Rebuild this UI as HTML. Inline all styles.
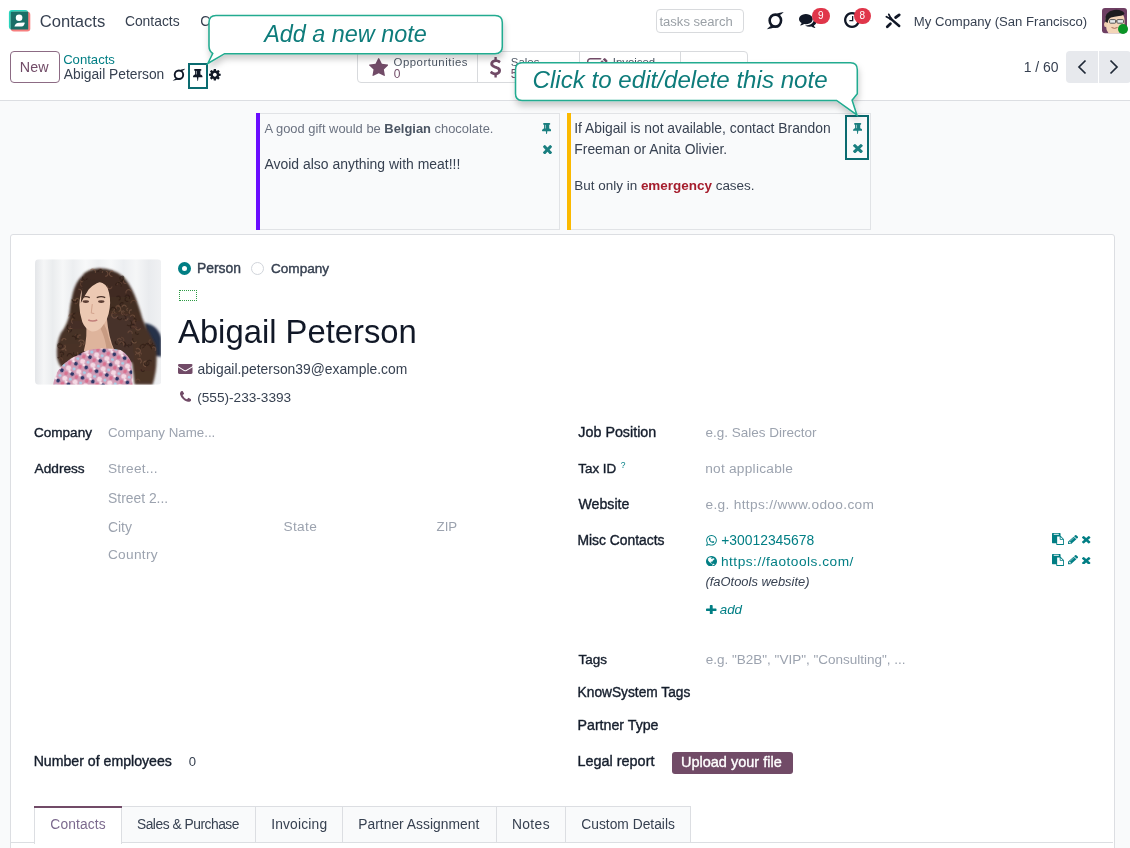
<!DOCTYPE html>
<html><head><meta charset="utf-8"><title>Abigail Peterson - Contacts</title>
<style>
html,body{margin:0;padding:0;}
body{width:1130px;height:848px;overflow:hidden;position:relative;background:#f9fafb;font-family:"Liberation Sans", Arial, sans-serif;}
.a{position:absolute;}
.t{position:absolute;white-space:nowrap;line-height:1;}
.badge{width:17.5px;height:16px;border-radius:8px;background:#e0364a;color:#fff;font-size:10px;line-height:16px;text-align:center;}
</style></head><body>
<div class="a" style="left:0;top:0;width:1130px;height:100px;background:#fff"></div>
<svg class="a" style="left:5px;top:6px" width="30" height="30" viewBox="0 0 30 30">
<rect x="3.9" y="4.1" width="19.3" height="19.4" rx="3" fill="#2ad4bc"/>
<rect x="5.8" y="5.8" width="19.5" height="19.7" rx="3" fill="#f87f7f"/>
<rect x="5.8" y="5.8" width="17.4" height="17.7" fill="#1b6e66"/>
<circle cx="14.1" cy="11.7" r="3.3" fill="#fff"/>
<path d="M9.4 20.6 Q10.3 16.7 14 16.7 L19.2 16.6 Q20.1 16.7 19.6 17.7 L18.5 19.8 Q18 20.6 16.5 20.6 Z" fill="#fff"/>
</svg>
<div class="t" style="left:39.77px;top:14px;font-size:16.58px;color:#374151;">Contacts</div>
<div class="t" style="left:124.91px;top:15px;font-size:13.86px;color:#374151;">Contacts</div>
<div class="t" style="left:200.31px;top:15px;font-size:13.86px;color:#374151;">Configuration</div>
<div class="a" style="left:656px;top:9px;width:86px;height:22px;border:1px solid #d8dadd;border-radius:4px;background:#fff"></div>
<div class="t" style="left:659.47px;top:15px;font-size:13.05px;color:#9aa0a6;">tasks search</div>
<svg class="a" style="left:766.3px;top:10.6px" width="18.6" height="19.5" viewBox="0 0 15.3 15" preserveAspectRatio="none">
<circle cx="7.7" cy="7.4" r="4.7" fill="none" stroke="#111827" stroke-width="2.1"/>
<path d="M0.7 14 Q2.8 11.8 5 11.2 L8.6 11.9 Q5 13.5 0.7 14 Z" fill="#111827"/>
<path d="M14.6 0.8 Q12.6 3 10.4 3.6 L6.8 2.9 Q10.4 1.3 14.6 0.8 Z" fill="#111827"/>
</svg>
<svg class="a" style="left:798.5px;top:14px;" width="17.5" height="14" viewBox="0 -1280.0 1792 1408.111111111111" preserveAspectRatio="none"><path transform="scale(1,-1)" fill="#111827" d="M704 256Q618 256 528 272Q404 184 250 144Q214 135 164 128H161Q150 128 140.5 136.0Q131 144 129 157Q128 160 128.0 163.5Q128 167 128.5 170.0Q129 173 130.5 176.0Q132 179 133.0 181.0Q134 183 136.5 186.5Q139 190 140.5 191.5Q142 193 145.0 196.5Q148 200 149 201Q154 207 172.0 226.0Q190 245 198.0 255.5Q206 266 220.5 284.5Q235 303 245.5 323.0Q256 343 266 367Q142 439 71.0 544.0Q0 649 0 768Q0 907 94.0 1025.0Q188 1143 350.5 1211.5Q513 1280 704.0 1280.0Q895 1280 1057.5 1211.5Q1220 1143 1314.0 1025.0Q1408 907 1408.0 768.0Q1408 629 1314.0 511.0Q1220 393 1057.5 324.5Q895 256 704 256ZM1792 512Q1792 392 1721.0 287.5Q1650 183 1526 111Q1536 87 1546.5 67.0Q1557 47 1571.5 28.5Q1586 10 1594.0 -0.5Q1602 -11 1620.0 -30.0Q1638 -49 1643 -55Q1644 -56 1647.0 -59.5Q1650 -63 1651.5 -64.5Q1653 -66 1655.5 -69.5Q1658 -73 1659.0 -75.0Q1660 -77 1661.5 -80.0Q1663 -83 1663.5 -86.0Q1664 -89 1664.0 -92.5Q1664 -96 1663 -99Q1660 -113 1650.0 -121.0Q1640 -129 1628 -128Q1578 -121 1542 -112Q1388 -72 1264 16Q1174 0 1088 0Q817 0 616 132Q674 128 704 128Q865 128 1013.0 173.0Q1161 218 1277 302Q1402 394 1469.0 514.0Q1536 634 1536 768Q1536 845 1513 920Q1642 849 1717.0 742.0Q1792 635 1792 512Z"/></svg>
<div class="a badge" style="left:812px;top:7.5px">9</div>
<svg class="a" style="left:844px;top:12.3px;" width="16" height="16.0" viewBox="0.0 -1408.0 1536.0 1536.0" preserveAspectRatio="none"><path transform="scale(1,-1)" fill="#111827" d="M896 992V544Q896 530 887.0 521.0Q878 512 864 512H544Q530 512 521.0 521.0Q512 530 512 544V608Q512 622 521.0 631.0Q530 640 544 640H768V992Q768 1006 777.0 1015.0Q786 1024 800 1024H864Q878 1024 887.0 1015.0Q896 1006 896 992ZM1239.0 367.0Q1312 492 1312.0 640.0Q1312 788 1239.0 913.0Q1166 1038 1041.0 1111.0Q916 1184 768.0 1184.0Q620 1184 495.0 1111.0Q370 1038 297.0 913.0Q224 788 224.0 640.0Q224 492 297.0 367.0Q370 242 495.0 169.0Q620 96 768.0 96.0Q916 96 1041.0 169.0Q1166 242 1239.0 367.0ZM1433.0 1025.5Q1536 849 1536.0 640.0Q1536 431 1433.0 254.5Q1330 78 1153.5 -25.0Q977 -128 768.0 -128.0Q559 -128 382.5 -25.0Q206 78 103.0 254.5Q0 431 0.0 640.0Q0 849 103.0 1025.5Q206 1202 382.5 1305.0Q559 1408 768.0 1408.0Q977 1408 1153.5 1305.0Q1330 1202 1433.0 1025.5Z"/></svg>
<div class="a badge" style="left:853.5px;top:7.5px">8</div>
<svg class="a" style="left:880px;top:8px" width="26" height="24" viewBox="0 0 26 24">
<g stroke="#111827" stroke-linecap="round" fill="none">
<path d="M15.6 9.5 L19.2 6.9" stroke-width="2.8"/>
<path d="M7.3 18.7 L10.4 15.8" stroke-width="2.8"/>
<path d="M11.2 11.1 L19.2 18" stroke-width="2.5"/>
<path d="M8.8 6.4 L10.5 9.7 M6.4 8.7 L9.7 10.5" stroke-width="1.8"/>
</g><circle cx="10.6" cy="10.6" r="1.6" fill="#111827"/>
</svg>
<div class="t" style="left:913.85px;top:15px;font-size:13.12px;color:#374151;">My Company (San Francisco)</div>
<svg class="a" style="left:1102px;top:8px" width="28" height="28" viewBox="0 0 28 28">
<rect x="0" y="0" width="25" height="25.3" rx="3" fill="#6e3f63"/>
<path d="M3.5 13 Q3 8 6 6.5 L19 5.5 Q22.5 7 22.5 12 L22.5 20 Q20.5 25.3 14 25.3 L6.5 25.3 Q4 22 4 18 Z" fill="#f3d5b8"/>
<ellipse cx="3.6" cy="16.5" rx="1.6" ry="2.6" fill="#efcdb0"/>
<path d="M3.2 13.5 Q2.5 3.5 12 2 Q20 1.2 22.5 5.5 Q21.5 7.5 17 8 Q12 8.5 9 9.5 Q6.2 10.5 5.6 15 Z" fill="#1d1d1f"/>
<rect x="7.6" y="11.6" width="6" height="3.6" rx="0.8" fill="#e4e8ea" stroke="#4a4a4a" stroke-width="0.9"/>
<rect x="15" y="11.6" width="6.5" height="3.6" rx="0.8" fill="#e4e8ea" stroke="#4a4a4a" stroke-width="0.9"/>
<path d="M13.6 13 L15 13" stroke="#4a4a4a" stroke-width="0.9"/>
<path d="M9.5 19.5 Q12.5 21.2 15.5 19.5" stroke="#a0604e" stroke-width="0.9" fill="none"/>
<circle cx="21" cy="21" r="5" fill="#0a9426"/>
</svg>
<div class="a" style="left:10px;top:51px;width:48px;height:30px;border:1px solid #8c6b84;border-radius:4px;background:#fff"></div>
<div class="t" style="left:19.86px;top:60px;font-size:14.31px;color:#714b67;">New</div>
<div class="t" style="left:63.14px;top:53px;font-size:13.14px;color:#017e84;">Contacts</div>
<div class="t" style="left:63.80px;top:68px;font-size:13.8px;color:#374151;">Abigail Peterson</div>
<svg class="a" style="left:171.6px;top:67.6px" width="13.8" height="13.6" viewBox="0 0 15.3 15" preserveAspectRatio="none">
<circle cx="7.7" cy="7.4" r="4.7" fill="none" stroke="#111827" stroke-width="2.1"/>
<path d="M0.7 14 Q2.8 11.8 5 11.2 L8.6 11.9 Q5 13.5 0.7 14 Z" fill="#111827"/>
<path d="M14.6 0.8 Q12.6 3 10.4 3.6 L6.8 2.9 Q10.4 1.3 14.6 0.8 Z" fill="#111827"/>
</svg>
<div class="a" style="left:188px;top:63px;width:16px;height:22px;border:2px solid #0b6b70"></div>
<svg class="a" style="left:193px;top:69px;" width="9.5" height="12" viewBox="0 -1408 1152 1664" preserveAspectRatio="none"><path transform="scale(1,-1)" fill="#111827" d="M480 672V1120Q480 1134 471.0 1143.0Q462 1152 448.0 1152.0Q434 1152 425.0 1143.0Q416 1134 416 1120V672Q416 658 425.0 649.0Q434 640 448.0 640.0Q462 640 471.0 649.0Q480 658 480 672ZM1152 320Q1152 294 1133.0 275.0Q1114 256 1088 256H659L608 -227Q606 -239 597.5 -247.5Q589 -256 577 -256H576Q549 -256 544 -229L468 256H64Q38 256 19.0 275.0Q0 294 0 320Q0 443 78.5 541.5Q157 640 256 640V1152Q204 1152 166.0 1190.0Q128 1228 128.0 1280.0Q128 1332 166.0 1370.0Q204 1408 256 1408H896Q948 1408 986.0 1370.0Q1024 1332 1024.0 1280.0Q1024 1228 986.0 1190.0Q948 1152 896 1152V640Q995 640 1073.5 541.5Q1152 443 1152 320Z"/></svg>
<svg class="a" style="left:209px;top:69px;" width="11.699999999999989" height="11.5" viewBox="0 -1408 1536 1536" preserveAspectRatio="none"><path transform="scale(1,-1)" fill="#111827" d="M949.0 459.0Q1024 534 1024.0 640.0Q1024 746 949.0 821.0Q874 896 768.0 896.0Q662 896 587.0 821.0Q512 746 512.0 640.0Q512 534 587.0 459.0Q662 384 768.0 384.0Q874 384 949.0 459.0ZM1536 749V527Q1536 515 1528.0 504.0Q1520 493 1508 491L1323 463Q1304 409 1284 372Q1319 322 1391 234Q1401 222 1401.0 209.0Q1401 196 1392 186Q1365 149 1293.0 78.0Q1221 7 1199 7Q1187 7 1173 16L1035 124Q991 101 944 86Q928 -50 915 -100Q908 -128 879 -128H657Q643 -128 632.5 -119.5Q622 -111 621 -98L593 86Q544 102 503 123L362 16Q352 7 337 7Q323 7 312 18Q186 132 147 186Q140 196 140 209Q140 221 148 232Q163 253 199.0 298.5Q235 344 253 369Q226 419 212 468L29 495Q16 497 8.0 507.5Q0 518 0 531V753Q0 765 8.0 776.0Q16 787 27 789L213 817Q227 863 252 909Q212 966 145 1047Q135 1059 135 1071Q135 1081 144 1094Q170 1130 242.5 1201.5Q315 1273 337 1273Q350 1273 363 1263L501 1156Q545 1179 592 1194Q608 1330 621 1380Q628 1408 657 1408H879Q893 1408 903.5 1399.5Q914 1391 915 1378L943 1194Q992 1178 1033 1157L1175 1264Q1184 1273 1199 1273Q1212 1273 1224 1263Q1353 1144 1389 1093Q1396 1085 1396 1071Q1396 1059 1388 1048Q1373 1027 1337.0 981.5Q1301 936 1283 911Q1309 861 1324 813L1507 785Q1520 783 1528.0 772.5Q1536 762 1536 749Z"/></svg>
<div class="a" style="left:357px;top:51px;width:389px;height:30px;border:1px solid #d8dadd;border-radius:4px;background:#fff"></div>
<div class="a" style="left:477px;top:52px;width:1px;height:30px;background:#d8dadd"></div>
<div class="a" style="left:579px;top:52px;width:1px;height:30px;background:#d8dadd"></div>
<div class="a" style="left:680px;top:52px;width:1px;height:30px;background:#d8dadd"></div>
<svg class="a" style="left:368.6px;top:57.7px;" width="19.399999999999977" height="18.0" viewBox="0 -1504.0 1664 1587.0" preserveAspectRatio="none"><path transform="scale(1,-1)" fill="#714b67" d="M1664 889Q1664 867 1638 841L1275 487L1361 -13Q1362 -20 1362 -33Q1362 -54 1351.5 -68.5Q1341 -83 1321 -83Q1302 -83 1281 -71L832 165L383 -71Q361 -83 343 -83Q322 -83 311.5 -68.5Q301 -54 301 -33Q301 -27 303 -13L389 487L25 841Q0 868 0 889Q0 926 56 935L558 1008L783 1463Q802 1504 832.0 1504.0Q862 1504 881 1463L1106 1008L1608 935Q1664 926 1664 889Z"/></svg>
<div class="t" style="left:393.54px;top:57px;font-size:11.4px;color:#4b5563;letter-spacing:0.516px;">Opportunities</div>
<div class="t" style="left:393.64px;top:68px;font-size:12px;color:#714b67;">0</div>
<svg class="a" style="left:490px;top:57px;" width="11" height="20.5" viewBox="44.96875 -1536 933.03125 1792" preserveAspectRatio="none"><path transform="scale(1,-1)" fill="#714b67" d="M978 351Q978 198 878.5 87.5Q779 -23 620 -49V-224Q620 -238 611.0 -247.0Q602 -256 588 -256H453Q440 -256 430.5 -246.5Q421 -237 421 -224V-49Q355 -40 293.5 -18.0Q232 4 192.0 26.5Q152 49 118.0 74.5Q84 100 71.5 112.0Q59 124 54 130Q37 151 52 171L155 306Q162 316 178 318Q193 320 202 309Q202 309 204 307Q317 208 447 182Q484 174 521 174Q602 174 663.5 217.0Q725 260 725 339Q725 367 710.0 392.0Q695 417 676.5 434.0Q658 451 618.0 471.5Q578 492 552.0 503.5Q526 515 472 536Q433 552 410.5 561.0Q388 570 349.0 587.5Q310 605 286.5 618.5Q263 632 230.0 654.0Q197 676 176.5 696.5Q156 717 133.0 745.5Q110 774 97.5 803.5Q85 833 76.5 870.0Q68 907 68 948Q68 1086 166.0 1190.0Q264 1294 421 1324V1504Q421 1517 430.5 1526.5Q440 1536 453 1536H588Q602 1536 611.0 1527.0Q620 1518 620 1504V1328Q677 1322 730.5 1305.0Q784 1288 817.5 1271.5Q851 1255 881.0 1234.0Q911 1213 920.0 1205.0Q929 1197 935 1191Q952 1173 940 1153L859 1007Q851 992 836 991Q822 988 809 998Q806 1001 794.5 1010.0Q783 1019 755.5 1036.5Q728 1054 697.0 1068.5Q666 1083 622.5 1094.5Q579 1106 537 1106Q442 1106 382.0 1063.0Q322 1020 322 952Q322 926 330.5 904.0Q339 882 360.0 862.5Q381 843 399.5 829.5Q418 816 455.5 798.5Q493 781 516.0 771.5Q539 762 586 744Q639 724 667.0 712.5Q695 701 743.0 677.5Q791 654 818.5 635.0Q846 616 880.5 585.0Q915 554 933.5 521.5Q952 489 965.0 445.0Q978 401 978 351Z"/></svg>
<div class="t" style="left:510.84px;top:57px;font-size:11.4px;color:#4b5563;">Sales</div>
<div class="t" style="left:510.82px;top:68px;font-size:12px;color:#714b67;">5</div>
<svg class="a" style="left:587px;top:57.5px;" width="20.5" height="16.200000000000003" viewBox="0 -1408 1784.0 1408" preserveAspectRatio="none"><path transform="scale(1,-1)" fill="#714b67" d="M888 352 1004 468 852 620 736 504V448H832V352ZM1295 1071 945 721Q928 704 944.0 688.0Q960 672 977 689L1327 1039Q1344 1056 1328.0 1072.0Q1312 1088 1295 1071ZM1408 478V288Q1408 169 1323.5 84.5Q1239 0 1120 0H288Q169 0 84.5 84.5Q0 169 0 288V1120Q0 1239 84.5 1323.5Q169 1408 288 1408H1120Q1183 1408 1237 1383Q1252 1376 1255 1360Q1258 1343 1246 1331L1197 1282Q1183 1268 1165 1274Q1142 1280 1120 1280H288Q222 1280 175.0 1233.0Q128 1186 128 1120V288Q128 222 175.0 175.0Q222 128 288 128H1120Q1186 128 1233.0 175.0Q1280 222 1280 288V414Q1280 427 1289 436L1353 500Q1368 515 1388.0 507.0Q1408 499 1408 478ZM1312 1216 1600 928 928 256H640V544ZM1756 1084 1664 992 1376 1280 1468 1372Q1496 1400 1536.0 1400.0Q1576 1400 1604 1372L1756 1220Q1784 1192 1784.0 1152.0Q1784 1112 1756 1084Z"/></svg>
<div class="t" style="left:612.77px;top:57px;font-size:11.4px;color:#4b5563;">Invoiced</div>
<div class="t" style="left:697.10px;top:61px;font-size:11.2px;color:#4b5563;">More</div>
<div class="t" style="left:1023.72px;top:61px;font-size:13.94px;color:#374151;">1 / 60</div>
<div class="a" style="left:1066px;top:51px;width:32px;height:32px;background:#e7e9ed;border-radius:4px 0 0 4px"></div>
<div class="a" style="left:1099px;top:51px;width:32px;height:32px;background:#e7e9ed;border-radius:0 4px 4px 0"></div>
<svg class="a" style="left:1076px;top:58px" width="44" height="18" viewBox="0 0 44 18">
<path d="M9.5 2.5 L3 9 L9.5 15.5" fill="none" stroke="#1f2937" stroke-width="1.7"/>
<path d="M34.5 2.5 L41 9 L34.5 15.5" fill="none" stroke="#1f2937" stroke-width="1.7"/></svg>
<div class="a" style="left:0;top:100px;width:1130px;height:1px;background:#dcdee2"></div>
<div class="a" style="left:256px;top:113px;width:302px;height:115px;border:1px solid #e1e3e6;background:#f9fafb"></div>
<div class="a" style="left:256px;top:113px;width:4px;height:116.5px;background:#6a0dff"></div>
<div class="t" style="left:264.50px;top:123px;font-size:12.91px;color:#6b7280;">A good gift would be <span style="font-weight:700;color:#4b5563;">Belgian</span> chocolate.</div>
<div class="t" style="left:264.50px;top:158px;font-size:13.94px;color:#374151;">Avoid also anything with meat!!!</div>
<svg class="a" style="left:542px;top:122.6px;" width="9.299999999999955" height="11.800000000000011" viewBox="0 -1408 1152 1664" preserveAspectRatio="none"><path transform="scale(1,-1)" fill="#1a7f80" d="M480 672V1120Q480 1134 471.0 1143.0Q462 1152 448.0 1152.0Q434 1152 425.0 1143.0Q416 1134 416 1120V672Q416 658 425.0 649.0Q434 640 448.0 640.0Q462 640 471.0 649.0Q480 658 480 672ZM1152 320Q1152 294 1133.0 275.0Q1114 256 1088 256H659L608 -227Q606 -239 597.5 -247.5Q589 -256 577 -256H576Q549 -256 544 -229L468 256H64Q38 256 19.0 275.0Q0 294 0 320Q0 443 78.5 541.5Q157 640 256 640V1152Q204 1152 166.0 1190.0Q128 1228 128.0 1280.0Q128 1332 166.0 1370.0Q204 1408 256 1408H896Q948 1408 986.0 1370.0Q1024 1332 1024.0 1280.0Q1024 1228 986.0 1190.0Q948 1152 896 1152V640Q995 640 1073.5 541.5Q1152 443 1152 320Z"/></svg>
<svg class="a" style="left:543px;top:144.6px;" width="9" height="9.400000000000006" viewBox="110.0 -1170.0 1188.0 1188.0" preserveAspectRatio="none"><path transform="scale(1,-1)" fill="#1a7f80" d="M1270 146 1134 10Q1106 -18 1066.0 -18.0Q1026 -18 998 10L704 304L410 10Q382 -18 342.0 -18.0Q302 -18 274 10L138 146Q110 174 110.0 214.0Q110 254 138 282L432 576L138 870Q110 898 110.0 938.0Q110 978 138 1006L274 1142Q302 1170 342.0 1170.0Q382 1170 410 1142L704 848L998 1142Q1026 1170 1066.0 1170.0Q1106 1170 1134 1142L1270 1006Q1298 978 1298.0 938.0Q1298 898 1270 870L976 576L1270 282Q1298 254 1298.0 214.0Q1298 174 1270 146Z"/></svg>
<div class="a" style="left:567px;top:113px;width:302px;height:115px;border:1px solid #e1e3e6;background:#f9fafb"></div>
<div class="a" style="left:567px;top:113px;width:4px;height:116.5px;background:#fbb900"></div>
<div class="t" style="left:574.15px;top:122px;font-size:13.87px;color:#374151;">If Abigail is not available, contact Brandon</div>
<div class="t" style="left:574.29px;top:143px;font-size:13.9px;color:#374151;">Freeman or Anita Olivier.</div>
<div class="t" style="left:574.32px;top:179px;font-size:13.46px;color:#374151;">But only in <span style="font-weight:700;color:#a51d2d;">emergency</span> cases.</div>
<div class="a" style="left:845px;top:115px;width:20px;height:41px;border:2px solid #0b6b70"></div>
<svg class="a" style="left:852.8px;top:123px;" width="9.300000000000068" height="11.300000000000011" viewBox="0 -1408 1152 1664" preserveAspectRatio="none"><path transform="scale(1,-1)" fill="#1a7f80" d="M480 672V1120Q480 1134 471.0 1143.0Q462 1152 448.0 1152.0Q434 1152 425.0 1143.0Q416 1134 416 1120V672Q416 658 425.0 649.0Q434 640 448.0 640.0Q462 640 471.0 649.0Q480 658 480 672ZM1152 320Q1152 294 1133.0 275.0Q1114 256 1088 256H659L608 -227Q606 -239 597.5 -247.5Q589 -256 577 -256H576Q549 -256 544 -229L468 256H64Q38 256 19.0 275.0Q0 294 0 320Q0 443 78.5 541.5Q157 640 256 640V1152Q204 1152 166.0 1190.0Q128 1228 128.0 1280.0Q128 1332 166.0 1370.0Q204 1408 256 1408H896Q948 1408 986.0 1370.0Q1024 1332 1024.0 1280.0Q1024 1228 986.0 1190.0Q948 1152 896 1152V640Q995 640 1073.5 541.5Q1152 443 1152 320Z"/></svg>
<svg class="a" style="left:853.4px;top:144.4px;" width="9.800000000000068" height="9.099999999999994" viewBox="110.0 -1170.0 1188.0 1188.0" preserveAspectRatio="none"><path transform="scale(1,-1)" fill="#1a7f80" d="M1270 146 1134 10Q1106 -18 1066.0 -18.0Q1026 -18 998 10L704 304L410 10Q382 -18 342.0 -18.0Q302 -18 274 10L138 146Q110 174 110.0 214.0Q110 254 138 282L432 576L138 870Q110 898 110.0 938.0Q110 978 138 1006L274 1142Q302 1170 342.0 1170.0Q382 1170 410 1142L704 848L998 1142Q1026 1170 1066.0 1170.0Q1106 1170 1134 1142L1270 1006Q1298 978 1298.0 938.0Q1298 898 1270 870L976 576L1270 282Q1298 254 1298.0 214.0Q1298 174 1270 146Z"/></svg>
<div class="a" style="left:10px;top:234px;width:1103px;height:640px;border:1px solid #dcdee2;border-radius:3px;background:#fff"></div>
<svg class="a" style="left:34.5px;top:258.5px" width="126.5" height="126" viewBox="0 0 127 126">
<defs><clipPath id="pc"><rect width="127" height="126" rx="4"/></clipPath>
<filter id="bl" x="-20%" y="-20%" width="140%" height="140%"><feGaussianBlur stdDeviation="1.2"/></filter>
<filter id="bl2" x="-20%" y="-20%" width="140%" height="140%"><feGaussianBlur stdDeviation="0.7"/></filter>
<filter id="bl3" x="-5%" y="-5%" width="110%" height="110%"><feGaussianBlur stdDeviation="0.35"/></filter>
<linearGradient id="bg" x1="0" x2="1" y1="0" y2="0">
<stop offset="0" stop-color="#e4e6e9"/><stop offset="0.07" stop-color="#f5f6f7"/><stop offset="0.14" stop-color="#eaecee"/><stop offset="0.22" stop-color="#f6f7f8"/><stop offset="0.3" stop-color="#eceef0"/><stop offset="0.4" stop-color="#f7f8f9"/><stop offset="0.5" stop-color="#eef0f2"/><stop offset="0.6" stop-color="#f7f8f9"/><stop offset="0.7" stop-color="#eceef1"/><stop offset="0.8" stop-color="#f5f6f7"/><stop offset="0.9" stop-color="#e9ebee"/><stop offset="1" stop-color="#f0f1f3"/></linearGradient>
<linearGradient id="hairg" x1="0" x2="0" y1="0" y2="1"><stop offset="0" stop-color="#3e2a21"/><stop offset="1" stop-color="#4d3529"/></linearGradient>
<pattern id="fl" width="11" height="11" patternUnits="userSpaceOnUse" patternTransform="rotate(20)">
<rect width="11" height="11" fill="#d29bb4"/><circle cx="3" cy="3" r="2.6" fill="#f4d9e4"/><circle cx="8.5" cy="7.5" r="1.9" fill="#2d3768"/><circle cx="8.5" cy="2" r="1.6" fill="#a6cfe8"/><circle cx="2.5" cy="9" r="1.9" fill="#d9708f"/><circle cx="5.5" cy="6" r="1.3" fill="#fbeef3"/></pattern>
</defs>
<g clip-path="url(#pc)">
<rect width="127" height="126" fill="url(#bg)"/>
<path d="M110 64 Q124 66 127 80 L127 98 L112 96 Z" fill="#263049" filter="url(#bl)"/>
<g filter="url(#bl)">
<path d="M64.5 9 Q52 10 48 16 Q41 22 38 34 Q35 45 34 58 Q31 68 26 74 Q21 84 22 98 Q23 106 28 110 L34 116 L50 96 L60 86 L86 88 L97 100 L100 126 L118 126 Q122 114 122 100 Q123 88 118 80 Q112 70 108 60 Q104 46 100 36 Q94 22 88 17 Q78 9 64.5 9 Z" fill="url(#hairg)"/>
<path d="M68 56 L96 56 L100 104 L70 104 Z" fill="#46302a"/>
</g>
<g fill="none" stroke-width="1.1" opacity="0.6" filter="url(#bl3)"><path d="M82.9 56.9A3.0 3.0 0 1 1 77.9 53.9" stroke="#835e4a"/><path d="M91.8 24.2A2.4 2.4 0 0 1 89.0 20.6" stroke="#7a5644"/><path d="M99.0 66.2A2.9 2.9 0 0 1 101.8 61.3" stroke="#6a4838"/><path d="M90.3 37.9A2.4 2.4 0 1 1 94.6 39.8" stroke="#2a1a13"/><path d="M71.1 12.0A2.5 2.5 0 1 1 70.4 17.0" stroke="#835e4a"/><path d="M25.0 93.9A2.0 2.0 0 1 1 28.3 96.2" stroke="#2a1a13"/><path d="M111.4 107.8A2.8 2.8 0 0 1 112.0 102.2" stroke="#835e4a"/><path d="M92.7 55.1A1.9 1.9 0 0 1 89.1 54.1" stroke="#6a4838"/><path d="M37.2 42.3A1.8 1.8 0 1 1 40.6 43.4" stroke="#835e4a"/><path d="M117.4 88.5A2.3 2.3 0 1 1 120.4 92.0" stroke="#7a5644"/><path d="M117.1 90.4A2.4 2.4 0 0 1 120.7 87.3" stroke="#2a1a13"/><path d="M55.7 11.1A2.8 2.8 0 0 1 60.6 13.6" stroke="#835e4a"/><path d="M32.4 97.3A2.6 2.6 0 1 1 37.6 97.3" stroke="#2a1a13"/><path d="M77.3 27.4A2.4 2.4 0 1 1 72.6 26.5" stroke="#7a5644"/><path d="M93.5 42.1A2.1 2.1 0 1 1 92.1 38.2" stroke="#2a1a13"/><path d="M86.3 78.4A2.7 2.7 0 0 1 87.2 83.7" stroke="#6a4838"/><path d="M103.2 95.6A1.9 1.9 0 0 1 107.0 95.7" stroke="#7a5644"/><path d="M82.5 47.2A2.7 2.7 0 0 1 83.9 52.5" stroke="#835e4a"/><path d="M91.4 34.3A2.8 2.8 0 1 1 96.8 32.5" stroke="#7a5644"/><path d="M101.5 124.0A2.2 2.2 0 1 1 105.4 122.7" stroke="#6a4838"/><path d="M90.0 52.4A2.4 2.4 0 0 1 86.0 50.3" stroke="#7a5644"/><path d="M43.3 79.0A2.0 2.0 0 0 1 46.0 76.3" stroke="#835e4a"/><path d="M110.6 86.6A2.7 2.7 0 1 1 115.7 88.3" stroke="#2a1a13"/><path d="M102.3 82.8A2.7 2.7 0 0 1 98.3 79.4" stroke="#2a1a13"/><path d="M93.4 74.3A2.1 2.1 0 1 1 97.4 74.9" stroke="#7a5644"/><path d="M41.6 40.0A2.3 2.3 0 1 1 39.9 44.3" stroke="#6a4838"/><path d="M29.8 86.0A2.7 2.7 0 0 1 26.5 90.1" stroke="#835e4a"/><path d="M64.3 10.6A2.1 2.1 0 1 1 67.3 13.6" stroke="#7a5644"/><path d="M105.9 90.0A2.9 2.9 0 1 1 110.9 86.9" stroke="#2a1a13"/><path d="M93.1 58.7A1.7 1.7 0 1 1 89.9 59.7" stroke="#835e4a"/><path d="M48.0 27.3A2.3 2.3 0 0 1 46.5 23.1" stroke="#6a4838"/><path d="M117.6 85.2A2.3 2.3 0 0 1 116.1 80.7" stroke="#6a4838"/><path d="M86.1 84.7A2.5 2.5 0 1 1 90.2 87.3" stroke="#2a1a13"/><path d="M43.5 30.2A2.8 2.8 0 0 1 45.6 35.3" stroke="#835e4a"/><path d="M23.6 87.1A2.1 2.1 0 1 1 27.4 88.5" stroke="#2a1a13"/><path d="M49.6 21.0A2.2 2.2 0 0 1 45.5 21.3" stroke="#835e4a"/><path d="M87.3 17.5A2.9 2.9 0 0 1 85.0 22.7" stroke="#2a1a13"/><path d="M96.2 83.2A1.7 1.7 0 1 1 93.8 85.4" stroke="#2a1a13"/><path d="M35.7 68.8A2.3 2.3 0 1 1 32.6 72.1" stroke="#2a1a13"/><path d="M101.2 90.2A2.9 2.9 0 0 1 105.8 93.4" stroke="#7a5644"/><path d="M29.3 105.2A2.4 2.4 0 1 1 32.2 108.9" stroke="#6a4838"/><path d="M100.7 96.3A2.3 2.3 0 1 1 105.0 97.8" stroke="#7a5644"/><path d="M99.1 62.7A2.7 2.7 0 0 1 96.9 67.6" stroke="#6a4838"/><path d="M45.3 83.5A2.2 2.2 0 0 1 44.0 87.6" stroke="#835e4a"/><path d="M102.0 82.7A2.5 2.5 0 0 1 97.3 81.6" stroke="#835e4a"/><path d="M82.3 25.7A2.3 2.3 0 1 1 86.5 26.7" stroke="#7a5644"/><path d="M90.0 88.2A2.0 2.0 0 0 1 94.0 88.5" stroke="#2a1a13"/><path d="M52.4 18.8A2.3 2.3 0 1 1 48.3 17.5" stroke="#2a1a13"/><path d="M40.1 77.2A1.8 1.8 0 1 1 43.2 78.7" stroke="#6a4838"/><path d="M84.3 84.6A2.0 2.0 0 0 1 81.0 82.3" stroke="#2a1a13"/><path d="M80.9 54.0A2.2 2.2 0 0 1 80.3 49.9" stroke="#7a5644"/><path d="M26.8 88.8A2.5 2.5 0 1 1 25.4 84.3" stroke="#2a1a13"/><path d="M114.1 102.9A2.5 2.5 0 1 1 109.5 104.0" stroke="#2a1a13"/><path d="M81.1 26.3A2.8 2.8 0 1 1 86.4 27.4" stroke="#2a1a13"/><path d="M45.2 85.4A2.0 2.0 0 0 1 49.0 86.5" stroke="#6a4838"/><path d="M87.8 16.6A2.3 2.3 0 1 1 85.9 20.8" stroke="#2a1a13"/><path d="M95.8 57.6A2.2 2.2 0 0 1 100.1 57.8" stroke="#835e4a"/><path d="M96.7 69.6A2.4 2.4 0 1 1 100.2 66.4" stroke="#2a1a13"/><path d="M40.9 42.6A1.9 1.9 0 0 1 43.9 40.2" stroke="#835e4a"/><path d="M109.9 111.6A1.6 1.6 0 1 1 106.8 110.5" stroke="#2a1a13"/><path d="M32.8 103.6A2.6 2.6 0 1 1 29.0 106.8" stroke="#7a5644"/><path d="M77.7 17.3A2.7 2.7 0 1 1 78.6 12.2" stroke="#835e4a"/><path d="M42.6 40.3A2.7 2.7 0 1 1 37.2 40.1" stroke="#2a1a13"/><path d="M85.6 20.3A1.9 1.9 0 0 1 88.8 18.2" stroke="#2a1a13"/><path d="M38.0 102.4A2.6 2.6 0 0 1 43.0 101.5" stroke="#6a4838"/><path d="M96.2 44.3A2.9 2.9 0 0 1 101.7 42.9" stroke="#6a4838"/><path d="M38.1 64.5A2.6 2.6 0 0 1 38.8 59.6" stroke="#7a5644"/><path d="M88.1 55.8A2.1 2.1 0 0 1 89.2 51.8" stroke="#7a5644"/><path d="M27.3 91.3A1.9 1.9 0 0 1 31.0 92.2" stroke="#835e4a"/><path d="M106.0 99.3A1.7 1.7 0 0 1 102.9 99.6" stroke="#7a5644"/><path d="M45.2 99.1A2.9 2.9 0 0 1 47.4 93.9" stroke="#2a1a13"/><path d="M26.8 95.4A2.6 2.6 0 0 1 22.7 98.4" stroke="#2a1a13"/><path d="M118.2 84.0A2.9 2.9 0 0 1 112.5 84.2" stroke="#2a1a13"/><path d="M95.1 61.4A2.7 2.7 0 1 1 92.4 65.8" stroke="#2a1a13"/><path d="M35.3 66.9A1.6 1.6 0 0 1 32.6 68.6" stroke="#6a4838"/><path d="M81.8 49.6A2.0 2.0 0 1 1 85.0 47.1" stroke="#7a5644"/><path d="M34.1 57.6A2.5 2.5 0 1 1 39.1 57.2" stroke="#6a4838"/><path d="M109.0 85.6A1.8 1.8 0 0 1 107.6 88.8" stroke="#2a1a13"/><path d="M37.1 77.6A2.7 2.7 0 0 1 41.0 80.9" stroke="#2a1a13"/><path d="M92.9 52.0A1.7 1.7 0 0 1 93.7 48.9" stroke="#835e4a"/><path d="M112.7 106.0A2.7 2.7 0 0 1 117.1 102.6" stroke="#2a1a13"/><path d="M104.1 74.6A1.7 1.7 0 0 1 101.2 72.8" stroke="#2a1a13"/><path d="M34.1 73.4A2.5 2.5 0 0 1 37.5 69.9" stroke="#835e4a"/><path d="M89.4 56.8A1.7 1.7 0 1 1 88.6 59.9" stroke="#2a1a13"/><path d="M42.4 94.5A1.9 1.9 0 1 1 39.0 93.4" stroke="#2a1a13"/><path d="M81.9 54.3A2.7 2.7 0 0 1 77.5 51.8" stroke="#6a4838"/><path d="M27.1 82.1A2.1 2.1 0 0 1 31.2 81.2" stroke="#835e4a"/><path d="M82.8 82.1A1.7 1.7 0 1 1 83.2 85.5" stroke="#6a4838"/><path d="M82.7 81.6A1.9 1.9 0 1 1 86.5 81.2" stroke="#7a5644"/><path d="M48.5 94.8A2.9 2.9 0 1 1 43.0 93.1" stroke="#7a5644"/><path d="M87.4 48.2A2.1 2.1 0 1 1 91.6 48.1" stroke="#835e4a"/><path d="M86.0 47.0A1.9 1.9 0 0 1 88.7 44.2" stroke="#2a1a13"/><path d="M63.1 12.9A2.5 2.5 0 0 1 67.8 11.7" stroke="#2a1a13"/><path d="M99.3 63.5A1.9 1.9 0 0 1 102.5 61.9" stroke="#6a4838"/><path d="M105.9 69.1A2.5 2.5 0 0 1 101.0 69.2" stroke="#835e4a"/><path d="M99.2 69.3A1.7 1.7 0 0 1 102.5 69.1" stroke="#6a4838"/><path d="M103.9 99.7A2.6 2.6 0 0 1 105.7 104.4" stroke="#835e4a"/><path d="M81.9 37.9A2.1 2.1 0 1 1 84.1 41.2" stroke="#2a1a13"/><path d="M35.7 71.0A2.9 2.9 0 0 1 33.3 65.9" stroke="#2a1a13"/><path d="M40.3 59.3A2.5 2.5 0 0 1 40.5 54.3" stroke="#2a1a13"/><path d="M35.8 100.7A1.8 1.8 0 1 1 39.2 101.7" stroke="#835e4a"/><path d="M95.3 54.6A2.1 2.1 0 0 1 97.3 51.0" stroke="#835e4a"/><path d="M99.4 59.5A1.8 1.8 0 0 1 100.7 62.8" stroke="#2a1a13"/><path d="M43.8 82.6A3.0 3.0 0 1 1 48.5 86.2" stroke="#835e4a"/><path d="M87.1 59.1A2.1 2.1 0 0 1 83.0 57.9" stroke="#2a1a13"/><path d="M44.0 80.0A2.4 2.4 0 1 1 43.0 75.3" stroke="#2a1a13"/><path d="M105.4 92.9A2.2 2.2 0 0 1 101.1 92.3" stroke="#835e4a"/><path d="M76.1 51.5A2.5 2.5 0 1 1 80.9 51.3" stroke="#2a1a13"/><path d="M24.5 99.8A1.6 1.6 0 1 1 27.0 101.7" stroke="#6a4838"/><path d="M85.2 83.7A2.2 2.2 0 1 1 88.5 86.6" stroke="#7a5644"/></g>
<g filter="url(#bl2)">
<path d="M51 60 Q53 78 49 92 L80 92 Q74 80 72 58 Z" fill="#deb49c"/>
<path d="M69 64 Q73 72 75 82 L79 92 L72 92 Q71 80 66 70 Z" fill="#b98a72" opacity="0.6"/>
<path d="M58 22 Q70 22 73 29 Q76.5 39 75 49 Q73.5 61 67 68 Q62 73 57 72.5 Q50.5 70.5 47.5 63 Q44.5 54 44.5 46 Q45 34 49 27 Q53 22 58 22 Z" fill="#ecc9b3"/>
<path d="M48 22 Q56 18 70 22 Q62 22 54 30 Q50 36 46 44 Z" fill="#3e2a21"/>
</g>
<path d="M18 126 Q21 112 28 106 Q36 99 42 97 Q50 91 60 90 Q74 89 86 91 Q94 96 97 104 Q98 116 98 126 Z" fill="url(#fl)" filter="url(#bl2)"/>
<g filter="url(#bl2)">
<ellipse cx="51" cy="42.5" rx="3.2" ry="1.4" fill="#5b3d33"/>
<ellipse cx="66.5" cy="42.5" rx="3.2" ry="1.4" fill="#5b3d33"/>
<path d="M47 38.5 Q51 36.5 55 38.5 M62 38.5 Q66.5 36.5 70.5 38.5" stroke="#4a3128" stroke-width="1.2" fill="none"/>
<path d="M53.5 61 Q58 63 62.5 61" stroke="#c27f7a" stroke-width="1.6" fill="none"/>
<path d="M57.5 45 L56.5 54 L59.5 54.5" stroke="#cf9f88" stroke-width="0.9" fill="none"/>
</g>
</g></svg>
<div class="a" style="left:177.5px;top:261.5px;width:13px;height:13px;border-radius:50%;box-sizing:border-box;border:4px solid #017e84;background:#fff"></div>
<div class="t" style="left:196.89px;top:262px;font-size:13.92px;color:#374151;-webkit-text-stroke:0.4px #374151;">Person</div>
<div class="a" style="left:250.5px;top:261.5px;width:13px;height:13px;border-radius:50%;box-sizing:border-box;border:1px solid #d1d5db;background:#fff"></div>
<div class="t" style="left:271.02px;top:262px;font-size:13.59px;color:#374151;-webkit-text-stroke:0.4px #374151;">Company</div>
<div class="a" style="left:179px;top:290px;width:16px;height:9px;border:1px dotted #2e9b45"></div>
<div class="t" style="left:178.00px;top:316px;font-size:32.8px;color:#111827;">Abigail Peterson</div>
<svg class="a" style="left:178px;top:364.3px;" width="14.5" height="9.899999999999977" viewBox="0 -1280 1792 1408" preserveAspectRatio="none"><path transform="scale(1,-1)" fill="#714b67" d="M1792 826V32Q1792 -34 1745.0 -81.0Q1698 -128 1632 -128H160Q94 -128 47.0 -81.0Q0 -34 0 32V826Q44 777 101 739Q463 493 598 394Q655 352 690.5 328.5Q726 305 785.0 280.5Q844 256 895 256H896H897Q948 256 1007.0 280.5Q1066 305 1101.5 328.5Q1137 352 1194 394Q1364 517 1692 739Q1749 778 1792 826ZM1792 1120Q1792 1041 1743.0 969.0Q1694 897 1621 846Q1245 585 1153 521Q1143 514 1110.5 490.5Q1078 467 1056.5 452.5Q1035 438 1004.5 420.0Q974 402 947.0 393.0Q920 384 897 384H896H895Q872 384 845.0 393.0Q818 402 787.5 420.0Q757 438 735.5 452.5Q714 467 681.5 490.5Q649 514 639 521Q548 585 377.0 703.5Q206 822 172 846Q110 888 55.0 961.5Q0 1035 0 1098Q0 1176 41.5 1228.0Q83 1280 160 1280H1632Q1697 1280 1744.5 1233.0Q1792 1186 1792 1120Z"/></svg>
<div class="t" style="left:197.45px;top:363px;font-size:13.87px;color:#374151;">abigail.peterson39@example.com</div>
<svg class="a" style="left:179.7px;top:391px;" width="11.300000000000011" height="10.800000000000011" viewBox="0 -1408 1408 1408" preserveAspectRatio="none"><path transform="scale(1,-1)" fill="#714b67" d="M1408 296Q1408 269 1398.0 225.5Q1388 182 1377 157Q1356 107 1255 51Q1161 0 1069 0Q1042 0 1016.0 3.5Q990 7 958.5 16.0Q927 25 911.5 30.5Q896 36 856.0 51.0Q816 66 807 69Q709 104 632 152Q505 231 368.0 368.0Q231 505 152 632Q104 709 69 807Q66 816 51.0 856.0Q36 896 30.5 911.5Q25 927 16.0 958.5Q7 990 3.5 1016.0Q0 1042 0 1069Q0 1161 51 1255Q107 1356 157 1377Q182 1388 225.5 1398.0Q269 1408 296 1408Q310 1408 317 1405Q335 1399 370 1329Q381 1310 400.0 1275.0Q419 1240 435.0 1211.5Q451 1183 466 1158Q469 1154 483.5 1133.0Q498 1112 505.0 1097.5Q512 1083 512 1069Q512 1049 483.5 1019.0Q455 989 421.5 964.0Q388 939 359.5 911.0Q331 883 331 865Q331 856 336.0 842.5Q341 829 344.5 822.0Q348 815 358.5 798.0Q369 781 370 779Q446 642 544.0 544.0Q642 446 779 370Q781 369 798.0 358.5Q815 348 822.0 344.5Q829 341 842.5 336.0Q856 331 865 331Q883 331 911.0 359.5Q939 388 964.0 421.5Q989 455 1019.0 483.5Q1049 512 1069 512Q1083 512 1097.5 505.0Q1112 498 1133.0 483.5Q1154 469 1158 466Q1183 451 1211.5 435.0Q1240 419 1275.0 400.0Q1310 381 1329 370Q1399 335 1405 317Q1408 310 1408 296Z"/></svg>
<div class="t" style="left:197.18px;top:391px;font-size:13.65px;color:#374151;">(555)-233-3393</div>
<div class="t" style="left:33.92px;top:426px;font-size:13.57px;color:#111827;-webkit-text-stroke:0.4px #1f2937;">Company</div>
<div class="t" style="left:107.93px;top:426px;font-size:13.34px;color:#9ca3af;">Company Name...</div>
<div class="t" style="left:34.60px;top:462px;font-size:13.66px;color:#111827;-webkit-text-stroke:0.4px #1f2937;">Address</div>
<div class="t" style="left:108.05px;top:462px;font-size:13.7px;color:#9ca3af;letter-spacing:0.185px;">Street...</div>
<div class="t" style="left:108.04px;top:492px;font-size:13.88px;color:#9ca3af;">Street 2...</div>
<div class="t" style="left:107.90px;top:520px;font-size:13.99px;color:#9ca3af;">City</div>
<div class="t" style="left:283.45px;top:520px;font-size:13.7px;color:#9ca3af;letter-spacing:0.339px;">State</div>
<div class="t" style="left:436.60px;top:520px;font-size:13.26px;color:#9ca3af;">ZIP</div>
<div class="t" style="left:107.91px;top:548px;font-size:13.7px;color:#9ca3af;letter-spacing:0.302px;">Country</div>
<div class="t" style="left:33.67px;top:754px;font-size:14.13px;color:#111827;-webkit-text-stroke:0.4px #1f2937;">Number of employees</div>
<div class="t" style="left:188.81px;top:755px;font-size:13.1px;color:#374151;">0</div>
<div class="t" style="left:578.36px;top:425px;font-size:14.31px;color:#111827;-webkit-text-stroke:0.4px #1f2937;">Job Position</div>
<div class="t" style="left:705.46px;top:426px;font-size:13.51px;color:#9ca3af;">e.g. Sales Director</div>
<div class="t" style="left:578.23px;top:462px;font-size:13.42px;color:#111827;-webkit-text-stroke:0.4px #1f2937;">Tax ID</div>
<div class="t" style="left:620.66px;top:461px;font-size:8.5px;color:#017e84;">?</div>
<div class="t" style="left:705.18px;top:462px;font-size:13.7px;color:#9ca3af;letter-spacing:0.251px;">not applicable</div>
<div class="t" style="left:578.50px;top:497px;font-size:14.16px;color:#111827;-webkit-text-stroke:0.4px #1f2937;">Website</div>
<div class="t" style="left:705.45px;top:498px;font-size:13.7px;color:#9ca3af;letter-spacing:0.331px;">e.g. https://www.odoo.com</div>
<div class="t" style="left:577.39px;top:534px;font-size:13.89px;color:#111827;-webkit-text-stroke:0.4px #1f2937;">Misc Contacts</div>
<svg class="a" style="left:706px;top:534.7px;" width="10.799999999999955" height="10.899999999999977" viewBox="0 -1414.0 1536.0 1548.0" preserveAspectRatio="none"><path transform="scale(1,-1)" fill="#017e84" d="M1172 465Q1174 460 1174 450Q1174 417 1157 374Q1141 335 1086.0 308.5Q1031 282 984 282Q927 282 794 344Q696 389 624.0 462.0Q552 535 476 647Q404 754 405 841V849Q408 940 479 1007Q503 1029 531 1029Q537 1029 549.0 1027.5Q561 1026 568 1026Q587 1026 594.5 1019.5Q602 1013 610 992Q618 972 643.0 904.0Q668 836 668 829Q668 808 633.5 771.5Q599 735 599 725Q599 718 604 710Q638 637 706 573Q762 520 857 472Q869 465 879 465Q894 465 933.0 513.5Q972 562 985.0 562.0Q998 562 1082.5 518.0Q1167 474 1172 465ZM782 32Q909 32 1025.5 82.0Q1142 132 1226.0 216.0Q1310 300 1360.0 416.5Q1410 533 1410.0 660.0Q1410 787 1360.0 903.5Q1310 1020 1226.0 1104.0Q1142 1188 1025.5 1238.0Q909 1288 782.0 1288.0Q655 1288 538.5 1238.0Q422 1188 338.0 1104.0Q254 1020 204.0 903.5Q154 787 154 660Q154 457 274 292L195 59L437 136Q595 32 782 32ZM782 -94Q587 -94 417 0L0 -134L136 271Q28 449 28 660Q28 813 88.0 952.5Q148 1092 249.0 1193.0Q350 1294 489.5 1354.0Q629 1414 782.0 1414.0Q935 1414 1074.5 1354.0Q1214 1294 1315.0 1193.0Q1416 1092 1476.0 952.5Q1536 813 1536.0 660.0Q1536 507 1476.0 367.5Q1416 228 1315.0 127.0Q1214 26 1074.5 -34.0Q935 -94 782 -94Z"/></svg>
<div class="t" style="left:721.25px;top:534px;font-size:13.87px;color:#017e84;">+30012345678</div>
<svg class="a" style="left:706px;top:555.9px;" width="11" height="10.600000000000023" viewBox="0.0 -1408.0 1536.0 1536.0" preserveAspectRatio="none"><path transform="scale(1,-1)" fill="#017e84" d="M382.5 1305.0Q559 1408 768.0 1408.0Q977 1408 1153.5 1305.0Q1330 1202 1433.0 1025.5Q1536 849 1536.0 640.0Q1536 431 1433.0 254.5Q1330 78 1153.5 -25.0Q977 -128 768.0 -128.0Q559 -128 382.5 -25.0Q206 78 103.0 254.5Q0 431 0.0 640.0Q0 849 103.0 1025.5Q206 1202 382.5 1305.0ZM1042 887Q1040 886 1032.5 877.5Q1025 869 1019 868Q1021 868 1023.5 873.0Q1026 878 1028.5 884.0Q1031 890 1032 891Q1038 898 1054 906Q1068 912 1106 918Q1140 926 1157 907Q1155 909 1166.5 920.0Q1178 931 1181 932Q1184 934 1196.0 936.5Q1208 939 1211 944L1213 966Q1201 965 1195.5 973.0Q1190 981 1189 994Q1189 992 1183 986Q1183 993 1178.5 994.0Q1174 995 1167.0 993.0Q1160 991 1158 992Q1148 995 1143.0 999.5Q1138 1004 1135.0 1016.0Q1132 1028 1131 1031Q1129 1036 1121.5 1042.0Q1114 1048 1112 1052Q1111 1054 1109.5 1057.5Q1108 1061 1106.5 1064.0Q1105 1067 1102.5 1069.5Q1100 1072 1097.0 1072.0Q1094 1072 1090.0 1067.0Q1086 1062 1082.5 1057.0Q1079 1052 1078 1052Q1075 1054 1072.0 1053.5Q1069 1053 1067.5 1052.5Q1066 1052 1063.0 1049.5Q1060 1047 1058 1046Q1055 1044 1049.5 1043.0Q1044 1042 1041 1041Q1056 1046 1040 1052Q1030 1056 1024 1055Q1033 1059 1031.5 1067.0Q1030 1075 1023 1081H1028Q1027 1085 1019.5 1089.5Q1012 1094 1002.0 1098.0Q992 1102 989 1104Q981 1109 955.0 1113.5Q929 1118 922 1114Q917 1108 917.5 1103.5Q918 1099 921.5 1089.5Q925 1080 925 1077Q926 1071 919.5 1064.0Q913 1057 913 1052Q913 1045 927.0 1036.5Q941 1028 937 1015Q934 1007 921.0 999.0Q908 991 905 987Q900 979 903.5 968.5Q907 958 914 952Q916 950 915.5 948.0Q915 946 912.0 943.5Q909 941 906.5 939.5Q904 938 900 936L897 934Q886 929 876.5 940.0Q867 951 863 966Q856 991 847 996Q824 1004 818 995Q813 1008 777 1021Q752 1030 719 1025Q725 1026 719 1040Q712 1055 700 1052Q703 1058 704.0 1069.5Q705 1081 705 1083Q708 1096 717 1106Q718 1107 724.0 1114.5Q730 1122 733.5 1128.0Q737 1134 734 1134Q769 1130 784 1145Q789 1150 795.5 1162.0Q802 1174 806 1179Q815 1185 820.0 1184.5Q825 1184 834.5 1179.0Q844 1174 849 1174Q863 1173 864.5 1185.0Q866 1197 857 1205Q869 1204 860 1222Q856 1229 852 1231Q840 1235 825 1226Q817 1222 827 1218Q826 1219 817.5 1207.5Q809 1196 801.0 1190.0Q793 1184 785 1195Q784 1196 779.5 1208.5Q775 1221 770 1222Q762 1222 754 1207Q757 1215 743.0 1222.0Q729 1229 719 1230Q738 1242 711 1257Q704 1261 690.5 1262.0Q677 1263 671 1258Q666 1251 665.5 1246.5Q665 1242 670.5 1238.5Q676 1235 681.0 1233.0Q686 1231 692.5 1229.0Q699 1227 701 1226Q715 1216 709 1212Q707 1211 700.5 1208.5Q694 1206 689.0 1204.0Q684 1202 683 1200Q680 1196 683.0 1186.0Q686 1176 681 1172Q676 1177 672.0 1189.5Q668 1202 665 1206Q672 1197 640 1200L630 1201Q626 1201 614.0 1199.0Q602 1197 593.5 1198.0Q585 1199 580 1206Q576 1214 580 1226Q581 1230 584 1228Q580 1231 573.0 1237.5Q566 1244 563 1246Q517 1231 469 1205Q475 1204 481 1206Q486 1208 494.0 1212.5Q502 1217 504 1218Q538 1232 546 1225L551 1230Q565 1214 571 1205Q564 1209 541 1206Q521 1200 519 1194Q526 1182 524 1176Q520 1179 512.5 1186.0Q505 1193 498.0 1197.0Q491 1201 483 1202Q467 1202 461 1201Q315 1121 226 979Q233 972 238 971Q242 970 243.0 962.0Q244 954 245.5 951.0Q247 948 257 954Q266 946 260 935Q261 936 304 908Q323 891 325 887Q328 876 315 869Q314 871 306.0 878.0Q298 885 297 882Q294 877 297.5 863.5Q301 850 308 851Q301 851 298.5 835.0Q296 819 296.0 799.5Q296 780 295 776L297 775Q294 763 302.5 740.5Q311 718 324 721Q311 718 344 678Q350 670 352 669Q355 667 364.0 661.5Q373 656 379.0 651.5Q385 647 389 641Q393 636 399.0 618.5Q405 601 413 595Q411 589 422.5 575.0Q434 561 433 552Q432 552 430.5 551.0Q429 550 428 550Q431 543 443.5 536.0Q456 529 459 523Q460 520 461.0 513.0Q462 506 464.0 502.0Q466 498 472 500Q474 520 448 562Q433 587 431 591Q428 596 425.5 606.5Q423 617 421 621Q423 621 427.0 619.5Q431 618 435.5 616.0Q440 614 443.0 612.0Q446 610 445 609Q442 602 447.0 591.5Q452 581 459.0 573.0Q466 565 476.0 554.0Q486 543 488 541Q494 535 502.0 521.5Q510 508 502 508Q511 508 522.0 497.5Q533 487 539 478Q544 470 547.0 452.0Q550 434 552 428Q554 421 560.5 414.5Q567 408 573.0 405.0Q579 402 589.0 397.0Q599 392 602 390Q607 388 620.5 379.5Q634 371 642 368Q652 364 658.0 364.0Q664 364 672.5 366.5Q681 369 686 370Q701 372 715.0 355.0Q729 338 736 334Q772 315 791 323Q789 322 791.5 315.5Q794 309 799.5 300.0Q805 291 808.5 285.5Q812 280 814 277Q819 271 832.0 262.0Q845 253 850 247Q856 251 857 256Q854 248 864.0 236.0Q874 224 882 226Q896 229 896 258Q865 243 847 276Q847 277 844.5 281.5Q842 286 840.5 290.0Q839 294 838.0 298.5Q837 303 838.0 306.0Q839 309 843 309Q852 309 853.0 312.5Q854 316 851.0 325.0Q848 334 847 338Q846 346 836.0 358.0Q826 370 824 373Q819 364 808.0 365.0Q797 366 792 374Q792 373 790.5 368.5Q789 364 789 362Q776 362 774 363Q775 366 776.5 380.5Q778 395 780 403Q781 407 785.5 415.0Q790 423 793.0 429.5Q796 436 797.0 442.0Q798 448 792.5 451.5Q787 455 775 454Q756 453 749 434Q748 431 746.0 423.5Q744 416 741.0 412.0Q738 408 732 405Q725 402 708.0 403.0Q691 404 684 408Q671 416 661.5 437.0Q652 458 652 474Q652 484 654.5 500.5Q657 517 657.5 525.5Q658 534 652 550Q655 552 661.0 559.5Q667 567 671 570Q673 571 675.5 571.5Q678 572 680.0 571.5Q682 571 684.0 573.0Q686 575 687 579Q686 580 683 582Q680 585 679 585Q686 582 707.5 586.5Q729 591 735 585Q750 574 757 587Q757 588 754.5 596.5Q752 605 754 610Q759 583 783 601Q786 598 798.5 596.0Q811 594 816 591Q819 589 823.0 585.5Q827 582 828.5 581.0Q830 580 833.5 581.5Q837 583 842 588Q852 574 854 564Q865 524 873 520Q880 517 884.0 518.0Q888 519 888.5 527.5Q889 536 888.5 541.5Q888 547 887 554L886 562Q886 571 886 580L885 588Q870 591 866.5 600.0Q863 609 868.0 618.5Q873 628 883 637Q884 638 891.0 640.5Q898 643 906.5 647.0Q915 651 919 655Q940 674 934 690Q941 690 945 699Q944 699 940.0 702.0Q936 705 932.5 707.0Q929 709 928 709Q937 714 930 725Q935 728 937.5 736.0Q940 744 945 746Q954 734 966 744Q974 752 967 760Q972 767 987.5 770.5Q1003 774 1006 780Q1013 778 1014.0 782.0Q1015 786 1015.0 794.0Q1015 802 1018 806Q1022 811 1033.0 815.0Q1044 819 1046 820L1063 831Q1066 835 1063 835Q1081 833 1094 846Q1104 857 1088 866Q1091 872 1085.0 875.5Q1079 879 1070 881Q1073 882 1081.5 881.5Q1090 881 1092 883Q1107 893 1085 899Q1068 904 1042 887ZM879 10Q1085 46 1230 199Q1227 202 1217.5 203.5Q1208 205 1205 207Q1187 214 1181 215Q1182 222 1178.5 228.0Q1175 234 1170.5 237.0Q1166 240 1158.0 245.0Q1150 250 1147 252Q1145 254 1140.0 258.0Q1135 262 1133.0 263.5Q1131 265 1125.5 268.0Q1120 271 1117.0 270.0Q1114 269 1107 269L1104 268Q1101 267 1098.5 265.5Q1096 264 1093.0 262.5Q1090 261 1089.0 259.5Q1088 258 1089 257Q1068 274 1053 279Q1048 280 1042.0 284.5Q1036 289 1031.5 291.5Q1027 294 1021.5 293.0Q1016 292 1010 286Q1005 281 1004.0 271.0Q1003 261 1002 258Q995 263 1002.0 275.5Q1009 288 1004 294Q1001 300 993.5 298.5Q986 297 981.5 294.0Q977 291 970.0 285.5Q963 280 961.0 279.0Q959 278 952.5 273.5Q946 269 944 266Q941 262 938.0 254.0Q935 246 933 243Q931 247 921.5 249.5Q912 252 912 255Q914 245 916.0 220.0Q918 195 921 182Q928 151 909 134Q882 109 880 94Q876 72 892 68Q892 61 884.0 47.5Q876 34 877 26Q877 20 879 10Z"/></svg>
<div class="t" style="left:720.98px;top:555px;font-size:13.7px;color:#017e84;letter-spacing:0.495px;">https://faotools.com/</div>
<div class="t" style="left:705.48px;top:576px;font-size:12.92px;color:#374151;font-style:italic;">(faOtools website)</div>
<svg class="a" style="left:706px;top:604.5px;" width="10.5" height="9.5" viewBox="0 -1408 1408 1408" preserveAspectRatio="none"><path transform="scale(1,-1)" fill="#017e84" d="M1408 800V608Q1408 568 1380.0 540.0Q1352 512 1312 512H896V96Q896 56 868.0 28.0Q840 0 800 0H608Q568 0 540.0 28.0Q512 56 512 96V512H96Q56 512 28.0 540.0Q0 568 0 608V800Q0 840 28.0 868.0Q56 896 96 896H512V1312Q512 1352 540.0 1380.0Q568 1408 608 1408H800Q840 1408 868.0 1380.0Q896 1352 896 1312V896H1312Q1352 896 1380.0 868.0Q1408 840 1408 800Z"/></svg>
<div class="t" style="left:719.73px;top:603px;font-size:13.37px;color:#017e84;font-style:italic;">add</div>
<svg class="a" style="left:1052px;top:533.3px;" width="12" height="11.900000000000091" viewBox="0 -1536 1792 1792" preserveAspectRatio="none"><path transform="scale(1,-1)" fill="#017e84" d="M768 -128H1664V512H1248Q1208 512 1180.0 540.0Q1152 568 1152 608V1024H768ZM1024 1312V1376Q1024 1389 1014.5 1398.5Q1005 1408 992 1408H288Q275 1408 265.5 1398.5Q256 1389 256 1376V1312Q256 1299 265.5 1289.5Q275 1280 288 1280H992Q1005 1280 1014.5 1289.5Q1024 1299 1024 1312ZM1280 640H1579L1280 939ZM1792 512V-160Q1792 -200 1764.0 -228.0Q1736 -256 1696 -256H736Q696 -256 668.0 -228.0Q640 -200 640 -160V0H96Q56 0 28.0 28.0Q0 56 0 96V1440Q0 1480 28.0 1508.0Q56 1536 96 1536H1184Q1224 1536 1252.0 1508.0Q1280 1480 1280 1440V1112Q1301 1099 1316 1084L1724 676Q1752 648 1772.0 600.0Q1792 552 1792 512Z"/></svg>
<svg class="a" style="left:1067.6px;top:534.6px;" width="10.200000000000045" height="9.299999999999955" viewBox="0 -1387 1515 1515" preserveAspectRatio="none"><path transform="scale(1,-1)" fill="#017e84" d="M363 0 454 91 219 326 128 235V128H256V0ZM886 928Q886 950 864 950Q854 950 847 943L305 401Q298 394 298 384Q298 362 320 362Q330 362 337 369L879 911Q886 918 886 928ZM832 1120 1248 704 416 -128H0V288ZM1515 1024Q1515 971 1478 934L1312 768L896 1184L1062 1349Q1098 1387 1152 1387Q1205 1387 1243 1349L1478 1115Q1515 1076 1515 1024Z"/></svg>
<svg class="a" style="left:1082.2px;top:536px;" width="8.399999999999864" height="7.5" viewBox="110.0 -1170.0 1188.0 1188.0" preserveAspectRatio="none"><path transform="scale(1,-1)" fill="#017e84" d="M1270 146 1134 10Q1106 -18 1066.0 -18.0Q1026 -18 998 10L704 304L410 10Q382 -18 342.0 -18.0Q302 -18 274 10L138 146Q110 174 110.0 214.0Q110 254 138 282L432 576L138 870Q110 898 110.0 938.0Q110 978 138 1006L274 1142Q302 1170 342.0 1170.0Q382 1170 410 1142L704 848L998 1142Q1026 1170 1066.0 1170.0Q1106 1170 1134 1142L1270 1006Q1298 978 1298.0 938.0Q1298 898 1270 870L976 576L1270 282Q1298 254 1298.0 214.0Q1298 174 1270 146Z"/></svg>
<svg class="a" style="left:1052px;top:554.0999999999999px;" width="12" height="11.900000000000091" viewBox="0 -1536 1792 1792" preserveAspectRatio="none"><path transform="scale(1,-1)" fill="#017e84" d="M768 -128H1664V512H1248Q1208 512 1180.0 540.0Q1152 568 1152 608V1024H768ZM1024 1312V1376Q1024 1389 1014.5 1398.5Q1005 1408 992 1408H288Q275 1408 265.5 1398.5Q256 1389 256 1376V1312Q256 1299 265.5 1289.5Q275 1280 288 1280H992Q1005 1280 1014.5 1289.5Q1024 1299 1024 1312ZM1280 640H1579L1280 939ZM1792 512V-160Q1792 -200 1764.0 -228.0Q1736 -256 1696 -256H736Q696 -256 668.0 -228.0Q640 -200 640 -160V0H96Q56 0 28.0 28.0Q0 56 0 96V1440Q0 1480 28.0 1508.0Q56 1536 96 1536H1184Q1224 1536 1252.0 1508.0Q1280 1480 1280 1440V1112Q1301 1099 1316 1084L1724 676Q1752 648 1772.0 600.0Q1792 552 1792 512Z"/></svg>
<svg class="a" style="left:1067.6px;top:555.4px;" width="10.200000000000045" height="9.299999999999955" viewBox="0 -1387 1515 1515" preserveAspectRatio="none"><path transform="scale(1,-1)" fill="#017e84" d="M363 0 454 91 219 326 128 235V128H256V0ZM886 928Q886 950 864 950Q854 950 847 943L305 401Q298 394 298 384Q298 362 320 362Q330 362 337 369L879 911Q886 918 886 928ZM832 1120 1248 704 416 -128H0V288ZM1515 1024Q1515 971 1478 934L1312 768L896 1184L1062 1349Q1098 1387 1152 1387Q1205 1387 1243 1349L1478 1115Q1515 1076 1515 1024Z"/></svg>
<svg class="a" style="left:1082.2px;top:556.8px;" width="8.399999999999864" height="7.5" viewBox="110.0 -1170.0 1188.0 1188.0" preserveAspectRatio="none"><path transform="scale(1,-1)" fill="#017e84" d="M1270 146 1134 10Q1106 -18 1066.0 -18.0Q1026 -18 998 10L704 304L410 10Q382 -18 342.0 -18.0Q302 -18 274 10L138 146Q110 174 110.0 214.0Q110 254 138 282L432 576L138 870Q110 898 110.0 938.0Q110 978 138 1006L274 1142Q302 1170 342.0 1170.0Q382 1170 410 1142L704 848L998 1142Q1026 1170 1066.0 1170.0Q1106 1170 1134 1142L1270 1006Q1298 978 1298.0 938.0Q1298 898 1270 870L976 576L1270 282Q1298 254 1298.0 214.0Q1298 174 1270 146Z"/></svg>
<div class="t" style="left:578.43px;top:653px;font-size:13.48px;color:#111827;-webkit-text-stroke:0.4px #1f2937;">Tags</div>
<div class="t" style="left:705.76px;top:653px;font-size:13.51px;color:#9ca3af;">e.g. "B2B", "VIP", "Consulting", ...</div>
<div class="t" style="left:577.60px;top:686px;font-size:13.74px;color:#111827;-webkit-text-stroke:0.4px #1f2937;">KnowSystem Tags</div>
<div class="t" style="left:577.56px;top:718px;font-size:14.19px;color:#111827;-webkit-text-stroke:0.4px #1f2937;">Partner Type</div>
<div class="t" style="left:577.55px;top:754px;font-size:14.41px;color:#111827;-webkit-text-stroke:0.4px #1f2937;">Legal report</div>
<div class="a" style="left:671.6px;top:752px;width:121px;height:22px;background:#714b67;border-radius:3px"></div>
<div class="t" style="left:680.99px;top:755px;font-size:14.5px;color:#fff;-webkit-text-stroke:0.35px #fff;">Upload your file</div>
<div class="a" style="left:11px;top:842px;width:1102px;height:1px;background:#dcdee2"></div>
<div class="a" style="left:34px;top:805.5px;width:88px;height:38px;background:#fff;border-left:1px solid #dcdee2;border-right:1px solid #dcdee2;box-sizing:border-box"></div>
<div class="a" style="left:34px;top:805.8px;width:88px;height:2.4px;background:#714b67"></div>
<div class="t" style="left:50.31px;top:818px;font-size:13.8px;color:#7c6a8e;letter-spacing:0.121px;">Contacts</div>
<div class="a" style="left:122px;top:805.5px;width:133.5px;height:37px;background:#f9fafb;border:1px solid #dcdee2;border-left:none;box-sizing:border-box"></div>
<div class="t" style="left:136.95px;top:818px;font-size:13.8px;color:#374151;letter-spacing:-0.476px;">Sales &amp; Purchase</div>
<div class="a" style="left:255.5px;top:805.5px;width:87.5px;height:37px;background:#f9fafb;border:1px solid #dcdee2;border-left:none;box-sizing:border-box"></div>
<div class="t" style="left:271.16px;top:818px;font-size:13.8px;color:#374151;letter-spacing:0.181px;">Invoicing</div>
<div class="a" style="left:343px;top:805.5px;width:154.39999999999998px;height:37px;background:#f9fafb;border:1px solid #dcdee2;border-left:none;box-sizing:border-box"></div>
<div class="t" style="left:358.20px;top:818px;font-size:13.8px;color:#374151;letter-spacing:0.046px;">Partner Assignment</div>
<div class="a" style="left:497.4px;top:805.5px;width:68.60000000000002px;height:37px;background:#f9fafb;border:1px solid #dcdee2;border-left:none;box-sizing:border-box"></div>
<div class="t" style="left:511.90px;top:818px;font-size:13.8px;color:#374151;letter-spacing:0.417px;">Notes</div>
<div class="a" style="left:566px;top:805.5px;width:124.70000000000005px;height:37px;background:#f9fafb;border:1px solid #dcdee2;border-left:none;box-sizing:border-box"></div>
<div class="t" style="left:581.31px;top:818px;font-size:13.8px;color:#374151;letter-spacing:0.003px;">Custom Details</div>
<svg class="a" style="left:0;top:0;overflow:visible" width="1130" height="848" viewBox="0 0 1130 848">
<defs><filter id="sh" x="-10%" y="-30%" width="120%" height="180%"><feDropShadow dx="1" dy="4.5" stdDeviation="3" flood-color="#000" flood-opacity="0.2"/></filter></defs>
<path filter="url(#sh)" d="M216 15.5 L495 15.5 Q502.3 15.5 502.3 22.5 L502.3 46.5 Q502.3 53.7 495 53.7 L224.6 53.7 L207.8 63.5 L212.7 53.5 Q209 51 209 46 L209 22.5 Q209 15.5 216 15.5 Z" fill="#fff" stroke="#22ab90" stroke-width="1.55"/>
<path filter="url(#sh)" d="M522 62.8 L850.5 62.8 Q857.3 62.8 857.3 69.8 L857.3 93.8 L852.1 100.2 L856.9 114.9 L836.6 100.4 L522 100.4 Q515.5 100.4 515.5 93.8 L515.5 69.8 Q515.5 62.8 522 62.8 Z" fill="#fff" stroke="#22ab90" stroke-width="1.55"/>
</svg>
<div class="t" style="left:264.17px;top:23px;font-size:23.41px;color:#0e7c7b;font-style:italic;">Add a new note</div>
<div class="t" style="left:532.59px;top:68px;font-size:24.14px;color:#0e7c7b;font-style:italic;">Click to edit/delete this note</div>
</body></html>
